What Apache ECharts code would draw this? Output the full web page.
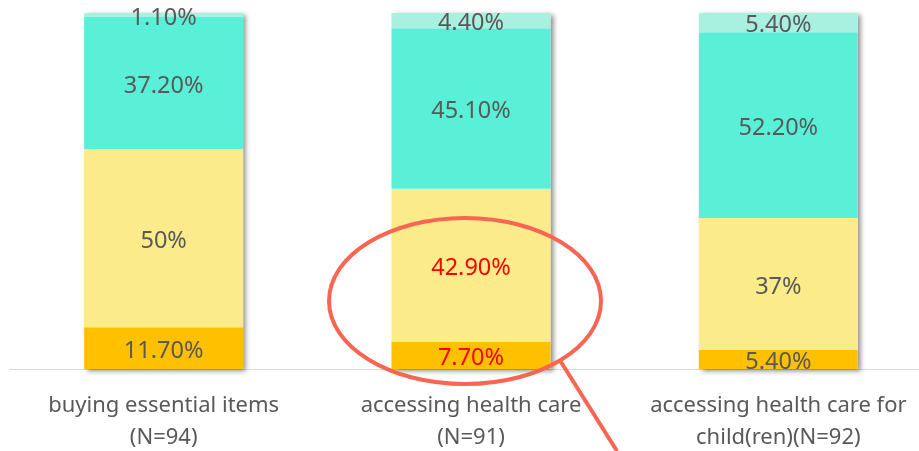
<!DOCTYPE html>
<html>
<head>
<meta charset="utf-8">
<style>
html, body { margin: 0; padding: 0; background: #ffffff; }
#chart { width: 919px; height: 451px; }
</style>
<script src="https://cdn.jsdelivr.net/npm/echarts@6/dist/echarts.min.js"></script>
</head>
<body>
<div id="chart"></div>
<script>
// categories and stacked percentages (bottom to top)
var categories = ['buying essential items\n(N=94)', 'accessing health care\n(N=91)', 'accessing health care for\nchild(ren)(N=92)'];
var seriesOrange = [11.7, 7.7, 5.4];
var seriesYellow = [50, 42.9, 37];
var seriesTeal = [37.2, 45.1, 52.2];
var seriesLight = [1.1, 4.4, 5.4];
var labelOrange = ['11.70%', '7.70%', '5.40%'];
var labelYellow = ['50%', '42.90%', '37%'];
var labelTeal = ['37.20%', '45.10%', '52.20%'];
var labelLight = ['1.10%', '4.40%', '5.40%'];
// highlighted (red text) items, by series then category
var redItems = { orange: [1], yellow: [1] };

var fontFam = '"Noto Sans", "Open Sans", sans-serif';

function makeData(values, labels, redList) {
    var out = [];
    for (var i = 0; i < values.length; i++) {
        var item = { value: values[i], name: labels[i] };
        if (redList && redList.indexOf(i) >= 0) {
            item.label = { color: '#FF0000' };
        }
        out.push(item);
    }
    return out;
}

function stackSeries(name, values, labels, color, redList) {
    return {
        name: name,
        type: 'bar',
        stack: 'total',
        barWidth: 159,
        z: 3,
        data: makeData(values, labels, redList),
        itemStyle: { color: color },
        label: {
            show: true,
            position: 'inside',
            offset: [0, 3],
            formatter: '{b}',
            color: '#595959',
            fontFamily: fontFam,
            fontSize: 23.5
        }
    };
}

// totals only used for the drop shadow behind each bar
var totals = [];
for (var i = 0; i < categories.length; i++) {
    totals.push(seriesOrange[i] + seriesYellow[i] + seriesTeal[i] + seriesLight[i]);
}

var myChart = echarts.init(document.getElementById('chart'));
var option = {
    animation: false,
    grid: { left: 10, width: 922, top: 13, bottom: 82, containLabel: false, outerBoundsMode: 'none' },
    xAxis: {
        type: 'category',
        data: categories,
        axisLine: { show: true, lineStyle: { color: '#D9D9D9', width: 1 } },
        axisTick: { show: false },
        axisLabel: {
            color: '#595959',
            fontFamily: fontFam,
            fontSize: 22,
            lineHeight: 32,
            margin: 21,
            interval: 0
        }
    },
    yAxis: { type: 'value', min: 0, max: 100, show: false, splitLine: { show: false } },
    series: [
        {
            name: 'shadow',
            type: 'bar',
            barWidth: 159,
            barGap: '-100%',
            z: 1,
            silent: true,
            data: totals,
            itemStyle: {
                color: '#ffffff',
                shadowBlur: 5,
                shadowOffsetX: 3,
                shadowOffsetY: 2,
                shadowColor: 'rgba(0,0,0,0.45)'
            }
        },
        stackSeries('orange', seriesOrange, labelOrange, '#FFC000', redItems.orange),
        stackSeries('yellow', seriesYellow, labelYellow, '#FCEB8A', redItems.yellow),
        stackSeries('teal', seriesTeal, labelTeal, '#5AF0D8', null),
        stackSeries('light', seriesLight, labelLight, '#A9F0E1', null)
    ],
    graphic: [
        {
            type: 'ellipse',
            shape: { cx: 465, cy: 301, rx: 136, ry: 83 },
            style: { fill: 'none', stroke: '#F86552', lineWidth: 4 },
            z: 10
        },
        {
            type: 'line',
            shape: { x1: 561, y1: 362, x2: 617, y2: 451 },
            style: { stroke: '#F86552', lineWidth: 4 },
            z: 10
        }
    ]
};
myChart.setOption(option);
</script>
</body>
</html>
